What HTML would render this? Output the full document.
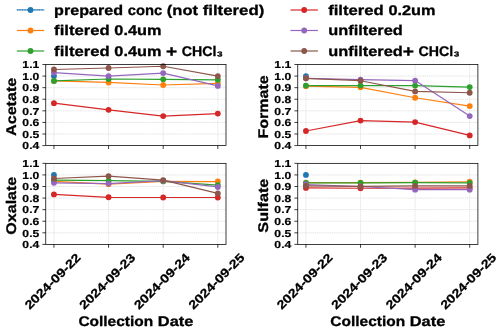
<!DOCTYPE html><html><head><meta charset="utf-8"><title>Ion concentrations by collection date</title><style>html,body{margin:0;padding:0;background:#fff}svg{display:block;will-change:transform}text{font-family:"Liberation Sans",sans-serif;font-weight:bold;fill:#000;text-rendering:geometricPrecision}</style></head><body>
<svg width="500" height="329" viewBox="0 0 500 329">
<rect width="500" height="329" fill="#fff"/>
<line x1="53.94" y1="64.5" x2="53.94" y2="145.6" stroke="#dadada" stroke-width="0.76" stroke-dasharray="1.2 0.7"/>
<line x1="108.56" y1="64.5" x2="108.56" y2="145.6" stroke="#dadada" stroke-width="0.76" stroke-dasharray="1.2 0.7"/>
<line x1="163.19" y1="64.5" x2="163.19" y2="145.6" stroke="#dadada" stroke-width="0.76" stroke-dasharray="1.2 0.7"/>
<line x1="217.81" y1="64.5" x2="217.81" y2="145.6" stroke="#dadada" stroke-width="0.76" stroke-dasharray="1.2 0.7"/>
<line x1="45.75" y1="134.01" x2="226.0" y2="134.01" stroke="#dadada" stroke-width="0.76" stroke-dasharray="1.2 0.7"/>
<line x1="45.75" y1="122.43" x2="226.0" y2="122.43" stroke="#dadada" stroke-width="0.76" stroke-dasharray="1.2 0.7"/>
<line x1="45.75" y1="110.84" x2="226.0" y2="110.84" stroke="#dadada" stroke-width="0.76" stroke-dasharray="1.2 0.7"/>
<line x1="45.75" y1="99.26" x2="226.0" y2="99.26" stroke="#dadada" stroke-width="0.76" stroke-dasharray="1.2 0.7"/>
<line x1="45.75" y1="87.67" x2="226.0" y2="87.67" stroke="#dadada" stroke-width="0.76" stroke-dasharray="1.2 0.7"/>
<line x1="45.75" y1="76.09" x2="226.0" y2="76.09" stroke="#dadada" stroke-width="0.76" stroke-dasharray="1.2 0.7"/>
<circle cx="53.94" cy="76.09" r="2.92" fill="#1f77b4"/>
<polyline fill="none" stroke="#ff7f0e" stroke-width="1.20" stroke-linejoin="round" points="53.94,80.95 108.56,82.46 163.19,85.01 217.81,83.38"/>
<circle cx="53.94" cy="80.95" r="2.92" fill="#ff7f0e"/>
<circle cx="108.56" cy="82.46" r="2.92" fill="#ff7f0e"/>
<circle cx="163.19" cy="85.01" r="2.92" fill="#ff7f0e"/>
<circle cx="217.81" cy="83.38" r="2.92" fill="#ff7f0e"/>
<polyline fill="none" stroke="#2ca02c" stroke-width="1.20" stroke-linejoin="round" points="53.94,80.95 108.56,78.98 163.19,79.33 217.81,79.79"/>
<circle cx="53.94" cy="80.95" r="2.92" fill="#2ca02c"/>
<circle cx="108.56" cy="78.98" r="2.92" fill="#2ca02c"/>
<circle cx="163.19" cy="79.33" r="2.92" fill="#2ca02c"/>
<circle cx="217.81" cy="79.79" r="2.92" fill="#2ca02c"/>
<polyline fill="none" stroke="#d62728" stroke-width="1.20" stroke-linejoin="round" points="53.94,103.20 108.56,109.80 163.19,116.06 217.81,113.62"/>
<circle cx="53.94" cy="103.20" r="2.92" fill="#d62728"/>
<circle cx="108.56" cy="109.80" r="2.92" fill="#d62728"/>
<circle cx="163.19" cy="116.06" r="2.92" fill="#d62728"/>
<circle cx="217.81" cy="113.62" r="2.92" fill="#d62728"/>
<polyline fill="none" stroke="#9467bd" stroke-width="1.20" stroke-linejoin="round" points="53.94,72.61 108.56,76.09 163.19,73.07 217.81,85.93"/>
<circle cx="53.94" cy="72.61" r="2.92" fill="#9467bd"/>
<circle cx="108.56" cy="76.09" r="2.92" fill="#9467bd"/>
<circle cx="163.19" cy="73.07" r="2.92" fill="#9467bd"/>
<circle cx="217.81" cy="85.93" r="2.92" fill="#9467bd"/>
<polyline fill="none" stroke="#8c564b" stroke-width="1.20" stroke-linejoin="round" points="53.94,69.48 108.56,67.98 163.19,66.24 217.81,76.09"/>
<circle cx="53.94" cy="69.48" r="2.92" fill="#8c564b"/>
<circle cx="108.56" cy="67.98" r="2.92" fill="#8c564b"/>
<circle cx="163.19" cy="66.24" r="2.92" fill="#8c564b"/>
<circle cx="217.81" cy="76.09" r="2.92" fill="#8c564b"/>
<rect x="45.75" y="64.5" width="180.25" height="81.10" fill="none" stroke="#000" stroke-width="0.76"/>
<line x1="42.41" y1="145.60" x2="45.75" y2="145.60" stroke="#000" stroke-width="0.76"/>
<text x="22.38" y="149.30" font-size="10.14" stroke="#000" stroke-width="0.2" textLength="16.89" lengthAdjust="spacingAndGlyphs">0.4</text>
<line x1="42.41" y1="134.01" x2="45.75" y2="134.01" stroke="#000" stroke-width="0.76"/>
<text x="22.38" y="137.71" font-size="10.14" stroke="#000" stroke-width="0.2" textLength="16.89" lengthAdjust="spacingAndGlyphs">0.5</text>
<line x1="42.41" y1="122.43" x2="45.75" y2="122.43" stroke="#000" stroke-width="0.76"/>
<text x="22.38" y="126.13" font-size="10.14" stroke="#000" stroke-width="0.2" textLength="16.89" lengthAdjust="spacingAndGlyphs">0.6</text>
<line x1="42.41" y1="110.84" x2="45.75" y2="110.84" stroke="#000" stroke-width="0.76"/>
<text x="22.38" y="114.54" font-size="10.14" stroke="#000" stroke-width="0.2" textLength="16.89" lengthAdjust="spacingAndGlyphs">0.7</text>
<line x1="42.41" y1="99.26" x2="45.75" y2="99.26" stroke="#000" stroke-width="0.76"/>
<text x="22.38" y="102.96" font-size="10.14" stroke="#000" stroke-width="0.2" textLength="16.89" lengthAdjust="spacingAndGlyphs">0.8</text>
<line x1="42.41" y1="87.67" x2="45.75" y2="87.67" stroke="#000" stroke-width="0.76"/>
<text x="22.38" y="91.37" font-size="10.14" stroke="#000" stroke-width="0.2" textLength="16.89" lengthAdjust="spacingAndGlyphs">0.9</text>
<line x1="42.41" y1="76.09" x2="45.75" y2="76.09" stroke="#000" stroke-width="0.76"/>
<text x="22.38" y="79.79" font-size="10.14" stroke="#000" stroke-width="0.2" textLength="16.89" lengthAdjust="spacingAndGlyphs">1.0</text>
<line x1="42.41" y1="64.50" x2="45.75" y2="64.50" stroke="#000" stroke-width="0.76"/>
<text x="22.38" y="68.20" font-size="10.14" stroke="#000" stroke-width="0.2" textLength="16.89" lengthAdjust="spacingAndGlyphs">1.1</text>
<line x1="53.94" y1="145.6" x2="53.94" y2="148.94" stroke="#000" stroke-width="0.76"/>
<line x1="108.56" y1="145.6" x2="108.56" y2="148.94" stroke="#000" stroke-width="0.76"/>
<line x1="163.19" y1="145.6" x2="163.19" y2="148.94" stroke="#000" stroke-width="0.76"/>
<line x1="217.81" y1="145.6" x2="217.81" y2="148.94" stroke="#000" stroke-width="0.76"/>
<g transform="translate(15.55,106.85) rotate(-90)"><text x="-29.06" y="0.00" font-size="14.02" stroke="#000" stroke-width="0.3" textLength="58.13" lengthAdjust="spacingAndGlyphs">Acetate</text></g>
<line x1="305.94" y1="64.5" x2="305.94" y2="145.6" stroke="#dadada" stroke-width="0.76" stroke-dasharray="1.2 0.7"/>
<line x1="360.53" y1="64.5" x2="360.53" y2="145.6" stroke="#dadada" stroke-width="0.76" stroke-dasharray="1.2 0.7"/>
<line x1="415.12" y1="64.5" x2="415.12" y2="145.6" stroke="#dadada" stroke-width="0.76" stroke-dasharray="1.2 0.7"/>
<line x1="469.71" y1="64.5" x2="469.71" y2="145.6" stroke="#dadada" stroke-width="0.76" stroke-dasharray="1.2 0.7"/>
<line x1="297.75" y1="134.01" x2="477.9" y2="134.01" stroke="#dadada" stroke-width="0.76" stroke-dasharray="1.2 0.7"/>
<line x1="297.75" y1="122.43" x2="477.9" y2="122.43" stroke="#dadada" stroke-width="0.76" stroke-dasharray="1.2 0.7"/>
<line x1="297.75" y1="110.84" x2="477.9" y2="110.84" stroke="#dadada" stroke-width="0.76" stroke-dasharray="1.2 0.7"/>
<line x1="297.75" y1="99.26" x2="477.9" y2="99.26" stroke="#dadada" stroke-width="0.76" stroke-dasharray="1.2 0.7"/>
<line x1="297.75" y1="87.67" x2="477.9" y2="87.67" stroke="#dadada" stroke-width="0.76" stroke-dasharray="1.2 0.7"/>
<line x1="297.75" y1="76.09" x2="477.9" y2="76.09" stroke="#dadada" stroke-width="0.76" stroke-dasharray="1.2 0.7"/>
<circle cx="305.94" cy="76.09" r="2.92" fill="#1f77b4"/>
<polyline fill="none" stroke="#ff7f0e" stroke-width="1.20" stroke-linejoin="round" points="305.94,86.17 360.53,87.32 415.12,97.75 469.71,106.09"/>
<circle cx="305.94" cy="86.17" r="2.92" fill="#ff7f0e"/>
<circle cx="360.53" cy="87.32" r="2.92" fill="#ff7f0e"/>
<circle cx="415.12" cy="97.75" r="2.92" fill="#ff7f0e"/>
<circle cx="469.71" cy="106.09" r="2.92" fill="#ff7f0e"/>
<polyline fill="none" stroke="#2ca02c" stroke-width="1.20" stroke-linejoin="round" points="305.94,85.59 360.53,85.59 415.12,85.59 469.71,87.09"/>
<circle cx="305.94" cy="85.59" r="2.92" fill="#2ca02c"/>
<circle cx="360.53" cy="85.59" r="2.92" fill="#2ca02c"/>
<circle cx="415.12" cy="85.59" r="2.92" fill="#2ca02c"/>
<circle cx="469.71" cy="87.09" r="2.92" fill="#2ca02c"/>
<polyline fill="none" stroke="#d62728" stroke-width="1.20" stroke-linejoin="round" points="305.94,131.00 360.53,120.57 415.12,122.08 469.71,135.40"/>
<circle cx="305.94" cy="131.00" r="2.92" fill="#d62728"/>
<circle cx="360.53" cy="120.57" r="2.92" fill="#d62728"/>
<circle cx="415.12" cy="122.08" r="2.92" fill="#d62728"/>
<circle cx="469.71" cy="135.40" r="2.92" fill="#d62728"/>
<polyline fill="none" stroke="#9467bd" stroke-width="1.20" stroke-linejoin="round" points="305.94,78.29 360.53,79.56 415.12,80.60 469.71,116.06"/>
<circle cx="305.94" cy="78.29" r="2.92" fill="#9467bd"/>
<circle cx="360.53" cy="79.56" r="2.92" fill="#9467bd"/>
<circle cx="415.12" cy="80.60" r="2.92" fill="#9467bd"/>
<circle cx="469.71" cy="116.06" r="2.92" fill="#9467bd"/>
<polyline fill="none" stroke="#8c564b" stroke-width="1.20" stroke-linejoin="round" points="305.94,78.29 360.53,80.72 415.12,91.38 469.71,92.77"/>
<circle cx="305.94" cy="78.29" r="2.92" fill="#8c564b"/>
<circle cx="360.53" cy="80.72" r="2.92" fill="#8c564b"/>
<circle cx="415.12" cy="91.38" r="2.92" fill="#8c564b"/>
<circle cx="469.71" cy="92.77" r="2.92" fill="#8c564b"/>
<rect x="297.75" y="64.5" width="180.15" height="81.10" fill="none" stroke="#000" stroke-width="0.76"/>
<line x1="294.41" y1="145.60" x2="297.75" y2="145.60" stroke="#000" stroke-width="0.76"/>
<text x="274.38" y="149.30" font-size="10.14" stroke="#000" stroke-width="0.2" textLength="16.89" lengthAdjust="spacingAndGlyphs">0.4</text>
<line x1="294.41" y1="134.01" x2="297.75" y2="134.01" stroke="#000" stroke-width="0.76"/>
<text x="274.38" y="137.71" font-size="10.14" stroke="#000" stroke-width="0.2" textLength="16.89" lengthAdjust="spacingAndGlyphs">0.5</text>
<line x1="294.41" y1="122.43" x2="297.75" y2="122.43" stroke="#000" stroke-width="0.76"/>
<text x="274.38" y="126.13" font-size="10.14" stroke="#000" stroke-width="0.2" textLength="16.89" lengthAdjust="spacingAndGlyphs">0.6</text>
<line x1="294.41" y1="110.84" x2="297.75" y2="110.84" stroke="#000" stroke-width="0.76"/>
<text x="274.38" y="114.54" font-size="10.14" stroke="#000" stroke-width="0.2" textLength="16.89" lengthAdjust="spacingAndGlyphs">0.7</text>
<line x1="294.41" y1="99.26" x2="297.75" y2="99.26" stroke="#000" stroke-width="0.76"/>
<text x="274.38" y="102.96" font-size="10.14" stroke="#000" stroke-width="0.2" textLength="16.89" lengthAdjust="spacingAndGlyphs">0.8</text>
<line x1="294.41" y1="87.67" x2="297.75" y2="87.67" stroke="#000" stroke-width="0.76"/>
<text x="274.38" y="91.37" font-size="10.14" stroke="#000" stroke-width="0.2" textLength="16.89" lengthAdjust="spacingAndGlyphs">0.9</text>
<line x1="294.41" y1="76.09" x2="297.75" y2="76.09" stroke="#000" stroke-width="0.76"/>
<text x="274.38" y="79.79" font-size="10.14" stroke="#000" stroke-width="0.2" textLength="16.89" lengthAdjust="spacingAndGlyphs">1.0</text>
<line x1="294.41" y1="64.50" x2="297.75" y2="64.50" stroke="#000" stroke-width="0.76"/>
<text x="274.38" y="68.20" font-size="10.14" stroke="#000" stroke-width="0.2" textLength="16.89" lengthAdjust="spacingAndGlyphs">1.1</text>
<line x1="305.94" y1="145.6" x2="305.94" y2="148.94" stroke="#000" stroke-width="0.76"/>
<line x1="360.53" y1="145.6" x2="360.53" y2="148.94" stroke="#000" stroke-width="0.76"/>
<line x1="415.12" y1="145.6" x2="415.12" y2="148.94" stroke="#000" stroke-width="0.76"/>
<line x1="469.71" y1="145.6" x2="469.71" y2="148.94" stroke="#000" stroke-width="0.76"/>
<g transform="translate(267.55,106.85) rotate(-90)"><text x="-31.62" y="0.00" font-size="14.02" stroke="#000" stroke-width="0.3" textLength="63.23" lengthAdjust="spacingAndGlyphs">Formate</text></g>
<line x1="53.94" y1="163.35" x2="53.94" y2="244.4" stroke="#dadada" stroke-width="0.76" stroke-dasharray="1.2 0.7"/>
<line x1="108.56" y1="163.35" x2="108.56" y2="244.4" stroke="#dadada" stroke-width="0.76" stroke-dasharray="1.2 0.7"/>
<line x1="163.19" y1="163.35" x2="163.19" y2="244.4" stroke="#dadada" stroke-width="0.76" stroke-dasharray="1.2 0.7"/>
<line x1="217.81" y1="163.35" x2="217.81" y2="244.4" stroke="#dadada" stroke-width="0.76" stroke-dasharray="1.2 0.7"/>
<line x1="45.75" y1="232.82" x2="226.0" y2="232.82" stroke="#dadada" stroke-width="0.76" stroke-dasharray="1.2 0.7"/>
<line x1="45.75" y1="221.24" x2="226.0" y2="221.24" stroke="#dadada" stroke-width="0.76" stroke-dasharray="1.2 0.7"/>
<line x1="45.75" y1="209.66" x2="226.0" y2="209.66" stroke="#dadada" stroke-width="0.76" stroke-dasharray="1.2 0.7"/>
<line x1="45.75" y1="198.09" x2="226.0" y2="198.09" stroke="#dadada" stroke-width="0.76" stroke-dasharray="1.2 0.7"/>
<line x1="45.75" y1="186.51" x2="226.0" y2="186.51" stroke="#dadada" stroke-width="0.76" stroke-dasharray="1.2 0.7"/>
<line x1="45.75" y1="174.93" x2="226.0" y2="174.93" stroke="#dadada" stroke-width="0.76" stroke-dasharray="1.2 0.7"/>
<circle cx="53.94" cy="174.93" r="2.92" fill="#1f77b4"/>
<polyline fill="none" stroke="#ff7f0e" stroke-width="1.20" stroke-linejoin="round" points="53.94,181.30 108.56,184.19 163.19,181.30 217.81,181.53"/>
<circle cx="53.94" cy="181.30" r="2.92" fill="#ff7f0e"/>
<circle cx="108.56" cy="184.19" r="2.92" fill="#ff7f0e"/>
<circle cx="163.19" cy="181.30" r="2.92" fill="#ff7f0e"/>
<circle cx="217.81" cy="181.53" r="2.92" fill="#ff7f0e"/>
<polyline fill="none" stroke="#2ca02c" stroke-width="1.20" stroke-linejoin="round" points="53.94,180.14 108.56,180.72 163.19,181.30 217.81,185.12"/>
<circle cx="53.94" cy="180.14" r="2.92" fill="#2ca02c"/>
<circle cx="108.56" cy="180.72" r="2.92" fill="#2ca02c"/>
<circle cx="163.19" cy="181.30" r="2.92" fill="#2ca02c"/>
<circle cx="217.81" cy="185.12" r="2.92" fill="#2ca02c"/>
<polyline fill="none" stroke="#d62728" stroke-width="1.20" stroke-linejoin="round" points="53.94,194.38 108.56,197.28 163.19,197.51 217.81,197.51"/>
<circle cx="53.94" cy="194.38" r="2.92" fill="#d62728"/>
<circle cx="108.56" cy="197.28" r="2.92" fill="#d62728"/>
<circle cx="163.19" cy="197.51" r="2.92" fill="#d62728"/>
<circle cx="217.81" cy="197.51" r="2.92" fill="#d62728"/>
<polyline fill="none" stroke="#9467bd" stroke-width="1.20" stroke-linejoin="round" points="53.94,182.80 108.56,183.61 163.19,180.72 217.81,186.97"/>
<circle cx="53.94" cy="182.80" r="2.92" fill="#9467bd"/>
<circle cx="108.56" cy="183.61" r="2.92" fill="#9467bd"/>
<circle cx="163.19" cy="180.72" r="2.92" fill="#9467bd"/>
<circle cx="217.81" cy="186.97" r="2.92" fill="#9467bd"/>
<polyline fill="none" stroke="#8c564b" stroke-width="1.20" stroke-linejoin="round" points="53.94,178.52 108.56,176.09 163.19,180.14 217.81,193.45"/>
<circle cx="53.94" cy="178.52" r="2.92" fill="#8c564b"/>
<circle cx="108.56" cy="176.09" r="2.92" fill="#8c564b"/>
<circle cx="163.19" cy="180.14" r="2.92" fill="#8c564b"/>
<circle cx="217.81" cy="193.45" r="2.92" fill="#8c564b"/>
<rect x="45.75" y="163.35" width="180.25" height="81.05" fill="none" stroke="#000" stroke-width="0.76"/>
<line x1="42.41" y1="244.40" x2="45.75" y2="244.40" stroke="#000" stroke-width="0.76"/>
<text x="22.38" y="248.10" font-size="10.14" stroke="#000" stroke-width="0.2" textLength="16.89" lengthAdjust="spacingAndGlyphs">0.4</text>
<line x1="42.41" y1="232.82" x2="45.75" y2="232.82" stroke="#000" stroke-width="0.76"/>
<text x="22.38" y="236.52" font-size="10.14" stroke="#000" stroke-width="0.2" textLength="16.89" lengthAdjust="spacingAndGlyphs">0.5</text>
<line x1="42.41" y1="221.24" x2="45.75" y2="221.24" stroke="#000" stroke-width="0.76"/>
<text x="22.38" y="224.94" font-size="10.14" stroke="#000" stroke-width="0.2" textLength="16.89" lengthAdjust="spacingAndGlyphs">0.6</text>
<line x1="42.41" y1="209.66" x2="45.75" y2="209.66" stroke="#000" stroke-width="0.76"/>
<text x="22.38" y="213.36" font-size="10.14" stroke="#000" stroke-width="0.2" textLength="16.89" lengthAdjust="spacingAndGlyphs">0.7</text>
<line x1="42.41" y1="198.09" x2="45.75" y2="198.09" stroke="#000" stroke-width="0.76"/>
<text x="22.38" y="201.79" font-size="10.14" stroke="#000" stroke-width="0.2" textLength="16.89" lengthAdjust="spacingAndGlyphs">0.8</text>
<line x1="42.41" y1="186.51" x2="45.75" y2="186.51" stroke="#000" stroke-width="0.76"/>
<text x="22.38" y="190.21" font-size="10.14" stroke="#000" stroke-width="0.2" textLength="16.89" lengthAdjust="spacingAndGlyphs">0.9</text>
<line x1="42.41" y1="174.93" x2="45.75" y2="174.93" stroke="#000" stroke-width="0.76"/>
<text x="22.38" y="178.63" font-size="10.14" stroke="#000" stroke-width="0.2" textLength="16.89" lengthAdjust="spacingAndGlyphs">1.0</text>
<line x1="42.41" y1="163.35" x2="45.75" y2="163.35" stroke="#000" stroke-width="0.76"/>
<text x="22.38" y="167.05" font-size="10.14" stroke="#000" stroke-width="0.2" textLength="16.89" lengthAdjust="spacingAndGlyphs">1.1</text>
<line x1="53.94" y1="244.4" x2="53.94" y2="247.74" stroke="#000" stroke-width="0.76"/>
<g transform="translate(52.59,281.25) rotate(-45)"><text x="-36.60" y="4.17" font-size="12.16" stroke="#000" stroke-width="0.25" textLength="73.20" lengthAdjust="spacingAndGlyphs">2024-09-22</text></g>
<line x1="108.56" y1="244.4" x2="108.56" y2="247.74" stroke="#000" stroke-width="0.76"/>
<g transform="translate(107.21,281.25) rotate(-45)"><text x="-36.60" y="4.17" font-size="12.16" stroke="#000" stroke-width="0.25" textLength="73.20" lengthAdjust="spacingAndGlyphs">2024-09-23</text></g>
<line x1="163.19" y1="244.4" x2="163.19" y2="247.74" stroke="#000" stroke-width="0.76"/>
<g transform="translate(161.84,281.25) rotate(-45)"><text x="-36.60" y="4.17" font-size="12.16" stroke="#000" stroke-width="0.25" textLength="73.20" lengthAdjust="spacingAndGlyphs">2024-09-24</text></g>
<line x1="217.81" y1="244.4" x2="217.81" y2="247.74" stroke="#000" stroke-width="0.76"/>
<g transform="translate(216.46,281.25) rotate(-45)"><text x="-36.60" y="4.17" font-size="12.16" stroke="#000" stroke-width="0.25" textLength="73.20" lengthAdjust="spacingAndGlyphs">2024-09-25</text></g>
<g transform="translate(15.55,205.68) rotate(-90)"><text x="-29.00" y="0.00" font-size="14.02" stroke="#000" stroke-width="0.3" textLength="57.99" lengthAdjust="spacingAndGlyphs">Oxalate</text></g>
<text x="78.43" y="325.60" font-size="14.02" stroke="#000" stroke-width="0.3" textLength="74.72" lengthAdjust="spacingAndGlyphs">Collection</text>
<text x="157.80" y="325.60" font-size="14.02" stroke="#000" stroke-width="0.3" textLength="35.53" lengthAdjust="spacingAndGlyphs">Date</text>
<line x1="305.94" y1="163.35" x2="305.94" y2="244.4" stroke="#dadada" stroke-width="0.76" stroke-dasharray="1.2 0.7"/>
<line x1="360.53" y1="163.35" x2="360.53" y2="244.4" stroke="#dadada" stroke-width="0.76" stroke-dasharray="1.2 0.7"/>
<line x1="415.12" y1="163.35" x2="415.12" y2="244.4" stroke="#dadada" stroke-width="0.76" stroke-dasharray="1.2 0.7"/>
<line x1="469.71" y1="163.35" x2="469.71" y2="244.4" stroke="#dadada" stroke-width="0.76" stroke-dasharray="1.2 0.7"/>
<line x1="297.75" y1="232.82" x2="477.9" y2="232.82" stroke="#dadada" stroke-width="0.76" stroke-dasharray="1.2 0.7"/>
<line x1="297.75" y1="221.24" x2="477.9" y2="221.24" stroke="#dadada" stroke-width="0.76" stroke-dasharray="1.2 0.7"/>
<line x1="297.75" y1="209.66" x2="477.9" y2="209.66" stroke="#dadada" stroke-width="0.76" stroke-dasharray="1.2 0.7"/>
<line x1="297.75" y1="198.09" x2="477.9" y2="198.09" stroke="#dadada" stroke-width="0.76" stroke-dasharray="1.2 0.7"/>
<line x1="297.75" y1="186.51" x2="477.9" y2="186.51" stroke="#dadada" stroke-width="0.76" stroke-dasharray="1.2 0.7"/>
<line x1="297.75" y1="174.93" x2="477.9" y2="174.93" stroke="#dadada" stroke-width="0.76" stroke-dasharray="1.2 0.7"/>
<circle cx="305.94" cy="174.93" r="2.92" fill="#1f77b4"/>
<polyline fill="none" stroke="#ff7f0e" stroke-width="1.20" stroke-linejoin="round" points="305.94,182.69 360.53,182.57 415.12,182.45 469.71,181.76"/>
<circle cx="305.94" cy="182.69" r="2.92" fill="#ff7f0e"/>
<circle cx="360.53" cy="182.57" r="2.92" fill="#ff7f0e"/>
<circle cx="415.12" cy="182.45" r="2.92" fill="#ff7f0e"/>
<circle cx="469.71" cy="181.76" r="2.92" fill="#ff7f0e"/>
<polyline fill="none" stroke="#2ca02c" stroke-width="1.20" stroke-linejoin="round" points="305.94,182.92 360.53,182.80 415.12,182.57 469.71,182.92"/>
<circle cx="305.94" cy="182.92" r="2.92" fill="#2ca02c"/>
<circle cx="360.53" cy="182.80" r="2.92" fill="#2ca02c"/>
<circle cx="415.12" cy="182.57" r="2.92" fill="#2ca02c"/>
<circle cx="469.71" cy="182.92" r="2.92" fill="#2ca02c"/>
<polyline fill="none" stroke="#d62728" stroke-width="1.20" stroke-linejoin="round" points="305.94,187.90 360.53,188.24 415.12,188.13 469.71,187.90"/>
<circle cx="305.94" cy="187.90" r="2.92" fill="#d62728"/>
<circle cx="360.53" cy="188.24" r="2.92" fill="#d62728"/>
<circle cx="415.12" cy="188.13" r="2.92" fill="#d62728"/>
<circle cx="469.71" cy="187.90" r="2.92" fill="#d62728"/>
<polyline fill="none" stroke="#9467bd" stroke-width="1.20" stroke-linejoin="round" points="305.94,184.54 360.53,186.51 415.12,189.63 469.71,189.63"/>
<circle cx="305.94" cy="184.54" r="2.92" fill="#9467bd"/>
<circle cx="360.53" cy="186.51" r="2.92" fill="#9467bd"/>
<circle cx="415.12" cy="189.63" r="2.92" fill="#9467bd"/>
<circle cx="469.71" cy="189.63" r="2.92" fill="#9467bd"/>
<polyline fill="none" stroke="#8c564b" stroke-width="1.20" stroke-linejoin="round" points="305.94,185.81 360.53,186.39 415.12,185.81 469.71,185.81"/>
<circle cx="305.94" cy="185.81" r="2.92" fill="#8c564b"/>
<circle cx="360.53" cy="186.39" r="2.92" fill="#8c564b"/>
<circle cx="415.12" cy="185.81" r="2.92" fill="#8c564b"/>
<circle cx="469.71" cy="185.81" r="2.92" fill="#8c564b"/>
<rect x="297.75" y="163.35" width="180.15" height="81.05" fill="none" stroke="#000" stroke-width="0.76"/>
<line x1="294.41" y1="244.40" x2="297.75" y2="244.40" stroke="#000" stroke-width="0.76"/>
<text x="274.38" y="248.10" font-size="10.14" stroke="#000" stroke-width="0.2" textLength="16.89" lengthAdjust="spacingAndGlyphs">0.4</text>
<line x1="294.41" y1="232.82" x2="297.75" y2="232.82" stroke="#000" stroke-width="0.76"/>
<text x="274.38" y="236.52" font-size="10.14" stroke="#000" stroke-width="0.2" textLength="16.89" lengthAdjust="spacingAndGlyphs">0.5</text>
<line x1="294.41" y1="221.24" x2="297.75" y2="221.24" stroke="#000" stroke-width="0.76"/>
<text x="274.38" y="224.94" font-size="10.14" stroke="#000" stroke-width="0.2" textLength="16.89" lengthAdjust="spacingAndGlyphs">0.6</text>
<line x1="294.41" y1="209.66" x2="297.75" y2="209.66" stroke="#000" stroke-width="0.76"/>
<text x="274.38" y="213.36" font-size="10.14" stroke="#000" stroke-width="0.2" textLength="16.89" lengthAdjust="spacingAndGlyphs">0.7</text>
<line x1="294.41" y1="198.09" x2="297.75" y2="198.09" stroke="#000" stroke-width="0.76"/>
<text x="274.38" y="201.79" font-size="10.14" stroke="#000" stroke-width="0.2" textLength="16.89" lengthAdjust="spacingAndGlyphs">0.8</text>
<line x1="294.41" y1="186.51" x2="297.75" y2="186.51" stroke="#000" stroke-width="0.76"/>
<text x="274.38" y="190.21" font-size="10.14" stroke="#000" stroke-width="0.2" textLength="16.89" lengthAdjust="spacingAndGlyphs">0.9</text>
<line x1="294.41" y1="174.93" x2="297.75" y2="174.93" stroke="#000" stroke-width="0.76"/>
<text x="274.38" y="178.63" font-size="10.14" stroke="#000" stroke-width="0.2" textLength="16.89" lengthAdjust="spacingAndGlyphs">1.0</text>
<line x1="294.41" y1="163.35" x2="297.75" y2="163.35" stroke="#000" stroke-width="0.76"/>
<text x="274.38" y="167.05" font-size="10.14" stroke="#000" stroke-width="0.2" textLength="16.89" lengthAdjust="spacingAndGlyphs">1.1</text>
<line x1="305.94" y1="244.4" x2="305.94" y2="247.74" stroke="#000" stroke-width="0.76"/>
<g transform="translate(304.59,281.25) rotate(-45)"><text x="-36.60" y="4.17" font-size="12.16" stroke="#000" stroke-width="0.25" textLength="73.20" lengthAdjust="spacingAndGlyphs">2024-09-22</text></g>
<line x1="360.53" y1="244.4" x2="360.53" y2="247.74" stroke="#000" stroke-width="0.76"/>
<g transform="translate(359.18,281.25) rotate(-45)"><text x="-36.60" y="4.17" font-size="12.16" stroke="#000" stroke-width="0.25" textLength="73.20" lengthAdjust="spacingAndGlyphs">2024-09-23</text></g>
<line x1="415.12" y1="244.4" x2="415.12" y2="247.74" stroke="#000" stroke-width="0.76"/>
<g transform="translate(413.77,281.25) rotate(-45)"><text x="-36.60" y="4.17" font-size="12.16" stroke="#000" stroke-width="0.25" textLength="73.20" lengthAdjust="spacingAndGlyphs">2024-09-24</text></g>
<line x1="469.71" y1="244.4" x2="469.71" y2="247.74" stroke="#000" stroke-width="0.76"/>
<g transform="translate(468.36,281.25) rotate(-45)"><text x="-36.60" y="4.17" font-size="12.16" stroke="#000" stroke-width="0.25" textLength="73.20" lengthAdjust="spacingAndGlyphs">2024-09-25</text></g>
<g transform="translate(267.55,205.68) rotate(-90)"><text x="-26.97" y="0.00" font-size="14.02" stroke="#000" stroke-width="0.3" textLength="53.95" lengthAdjust="spacingAndGlyphs">Sulfate</text></g>
<text x="330.38" y="325.60" font-size="14.02" stroke="#000" stroke-width="0.3" textLength="74.72" lengthAdjust="spacingAndGlyphs">Collection</text>
<text x="409.75" y="325.60" font-size="14.02" stroke="#000" stroke-width="0.3" textLength="35.53" lengthAdjust="spacingAndGlyphs">Date</text>
<line x1="16.8" y1="9.90" x2="44.20" y2="9.90" stroke="#1f77b4" stroke-width="1.1" stroke-opacity="0.6"/>
<line x1="16.8" y1="9.90" x2="44.20" y2="9.90" stroke="#1f77b4" stroke-width="1.10" stroke-dasharray="1.1 0.6"/>
<circle cx="30.50" cy="10.00" r="2.92" fill="#1f77b4"/>
<text x="54.10" y="14.55" font-size="14.02" stroke="#000" stroke-width="0.3" textLength="68.96" lengthAdjust="spacingAndGlyphs">prepared</text>
<text x="127.70" y="14.55" font-size="14.02" stroke="#000" stroke-width="0.3" textLength="34.50" lengthAdjust="spacingAndGlyphs">conc</text>
<text x="166.85" y="14.55" font-size="14.02" stroke="#000" stroke-width="0.3" textLength="31.16" lengthAdjust="spacingAndGlyphs">(not</text>
<text x="202.66" y="14.55" font-size="14.02" stroke="#000" stroke-width="0.3" textLength="61.69" lengthAdjust="spacingAndGlyphs">filtered)</text>
<line x1="16.8" y1="30.50" x2="44.20" y2="30.50" stroke="#ff7f0e" stroke-width="1.20"/>
<circle cx="30.50" cy="30.50" r="2.92" fill="#ff7f0e"/>
<text x="54.10" y="35.05" font-size="14.02" stroke="#000" stroke-width="0.3" textLength="55.59" lengthAdjust="spacingAndGlyphs">filtered</text>
<text x="114.34" y="35.05" font-size="14.02" stroke="#000" stroke-width="0.3" textLength="47.07" lengthAdjust="spacingAndGlyphs">0.4um</text>
<line x1="16.8" y1="51.00" x2="44.20" y2="51.00" stroke="#2ca02c" stroke-width="1.20"/>
<circle cx="30.50" cy="51.00" r="2.92" fill="#2ca02c"/>
<text x="54.10" y="55.55" font-size="14.02" stroke="#000" stroke-width="0.3" textLength="55.59" lengthAdjust="spacingAndGlyphs">filtered</text>
<text x="114.34" y="55.55" font-size="14.02" stroke="#000" stroke-width="0.3" textLength="47.07" lengthAdjust="spacingAndGlyphs">0.4um</text>
<text x="166.05" y="56.86" font-size="16.51" stroke="#000" stroke-width="0.3" textLength="11.19" lengthAdjust="spacingAndGlyphs">+</text>
<text x="181.89" y="55.55" font-size="14.02" stroke="#000" stroke-width="0.3" textLength="41.19" lengthAdjust="spacingAndGlyphs">CHCl₃</text>
<line x1="290.5" y1="10.00" x2="317.90" y2="10.00" stroke="#d62728" stroke-width="1.20"/>
<circle cx="304.20" cy="10.00" r="2.92" fill="#d62728"/>
<text x="328.20" y="14.55" font-size="14.02" stroke="#000" stroke-width="0.3" textLength="55.59" lengthAdjust="spacingAndGlyphs">filtered</text>
<text x="388.44" y="14.55" font-size="14.02" stroke="#000" stroke-width="0.3" textLength="47.07" lengthAdjust="spacingAndGlyphs">0.2um</text>
<line x1="290.5" y1="30.50" x2="317.90" y2="30.50" stroke="#9467bd" stroke-width="1.20"/>
<circle cx="304.20" cy="30.50" r="2.92" fill="#9467bd"/>
<text x="328.20" y="35.05" font-size="14.02" stroke="#000" stroke-width="0.3" textLength="74.60" lengthAdjust="spacingAndGlyphs">unfiltered</text>
<line x1="290.5" y1="51.00" x2="317.90" y2="51.00" stroke="#8c564b" stroke-width="1.20"/>
<circle cx="304.20" cy="51.00" r="2.92" fill="#8c564b"/>
<text x="328.20" y="55.55" font-size="14.02" stroke="#000" stroke-width="0.3" textLength="74.60" lengthAdjust="spacingAndGlyphs">unfiltered</text>
<text x="402.80" y="56.86" font-size="16.51" stroke="#000" stroke-width="0.3" textLength="11.19" lengthAdjust="spacingAndGlyphs">+</text>
<text x="418.63" y="55.55" font-size="14.02" stroke="#000" stroke-width="0.3" textLength="41.19" lengthAdjust="spacingAndGlyphs">CHCl₃</text>
</svg></body></html>
